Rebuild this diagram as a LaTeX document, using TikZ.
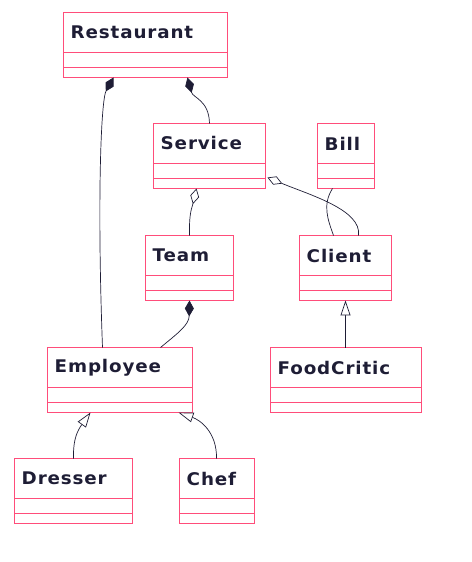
\documentclass[tikz,border=0pt]{standalone}
\usepackage{fontspec}
\setmainfont{DejaVu Sans}
\newfontfamily\clsfont[LetterSpace=5,FakeStretch=1.05]{DejaVu Sans}
\usetikzlibrary{arrows.meta,calc}
\definecolor{clsline}{HTML}{FF4D7A}
\definecolor{ink}{HTML}{1E1D35}
\begin{document}
\begin{tikzpicture}
      [%%%%%%%%%%%%%%%%%%%%%%%%%%%%%%
          x=1bp, y=-1bp,
          cls/.style={rectangle,draw=clsline,line width=1bp,minimum height=65bp,
                      anchor=north west,inner sep=0pt,outer sep=0pt},
          title/.style={anchor=west,inner sep=0pt,text=ink,font=\clsfont\bfseries\fontsize{17.5}{20}\selectfont},
          rel/.style={draw=ink,line width=0.7pt},
          comp/.style={rel,-{Diamond[length=16pt,width=9pt,fill=ink]}},
          aggr/.style={rel,-{Diamond[open,length=16pt,width=9pt,fill=white]}},
          inh/.style={rel,-{Triangle[open,length=15pt,width=10pt,fill=white]}}
      ]%%%%%%%%%%%%%%%%%%%%%%%%%%%%%%

  \useasboundingbox (0,0) rectangle (472,562);

  % classes: name/left/top/width
  \foreach \n/\x/\y/\w in {Restaurant/63/12/164, Service/153/123/112, Bill/317/123/57,
                           Team/145/235/88, Client/299/235/92, Employee/47/347/145,
                           FoodCritic/270/347/151, Dresser/14/458/118, Chef/179/458/75}{
      \node[cls,minimum width=\w bp] (\n) at (\x+0.5,\y+0.5) {};
      \node[title] (\n-t) at ([xshift=7bp,yshift=-20bp]\n.north west) {\n};
      \draw[clsline,line width=1bp] ([yshift=-40bp]\n.north west) -- ([yshift=-40bp]\n.north east);
      \draw[clsline,line width=1bp] ([yshift=-55bp]\n.north west) -- ([yshift=-55bp]\n.north east);
  }

  % relations
  \draw[comp] ([xshift=55bp]Employee.north west) .. controls (97,200) and (101,100) .. ([xshift=50bp]Restaurant.south west);
  \draw[comp] ([xshift=56bp]Service.north west) .. controls (209,100) and (193,98) .. ([xshift=124bp]Restaurant.south west);
  \draw[aggr] ([xshift=44bp]Team.north west) .. controls (189,212) and (192,208) .. ([xshift=43bp]Service.south west);
  \draw[aggr] ([xshift=59bp]Client.north west) .. controls (362,210) and (310,195) .. ([xshift=2bp,yshift=11bp]Service.south east);
  \draw[rel] ([xshift=15bp]Bill.south west) .. controls (322,205) and (328,220) .. ([xshift=34bp]Client.north west);
  \draw[comp] ([xshift=113bp]Employee.north west) .. controls (178,333) and (189,325) .. ([xshift=44bp]Team.south west);
  \draw[inh] (FoodCritic.north -| Client.south) -- (Client.south);
  \draw[inh] ([xshift=59bp]Dresser.north west) .. controls (73,438) and (78,430) .. ([xshift=43bp]Employee.south west);
  \draw[inh] ([xshift=37bp]Chef.north west) .. controls (217,432) and (200,420) .. ([xshift=131bp]Employee.south west);

\end{tikzpicture}
\end{document}
